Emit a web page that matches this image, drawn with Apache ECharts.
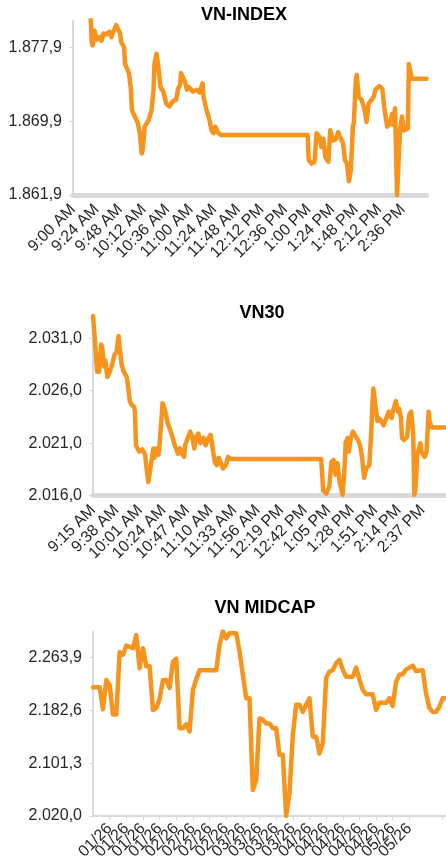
<!DOCTYPE html>
<html>
<head>
<meta charset="utf-8">
<script src="https://cdn.jsdelivr.net/npm/echarts@6/dist/echarts.min.js"></script>
<style>
  html, body { margin: 0; padding: 0; background: #fff; }
  #chart { width: 446px; height: 863px; }
</style>
</head>
<body>
<div id="chart"></div>
<script>
// VN-INDEX intraday (time, points)
const vniTimes = [
    '9:18','9:19','9:20','9:22','9:24','9:27','9:29','9:31','9:34','9:37',
    '9:39','9:44','9:48','9:49','9:52','9:53','9:55','9:57','9:59','10:00',
    '10:03','10:06','10:08','10:10','10:11','10:13','10:15','10:17','10:20','10:22',
    '10:23','10:25','10:27','10:29','10:32','10:35','10:38','10:42','10:45','10:47',
    '10:49','10:50','10:54','10:56','10:58','11:02','11:06','11:09','11:12','11:13',
    '11:16','11:18','11:19','11:21','11:23','11:25','11:28','11:31','12:59','13:00',
    '13:03','13:06','13:08','13:11','13:13','13:15','13:17','13:20','13:22','13:25',
    '13:28','13:30','13:32','13:35','13:37','13:39','13:41','13:43','13:45','13:46',
    '13:48','13:49','13:51','13:54','13:57','13:59','14:01','14:04','14:06','14:08',
    '14:12','14:15','14:17','14:20','14:23','14:25','14:26','14:28','14:29','14:30',
    '14:32','14:33','14:35','14:37','14:41','14:42','14:45','15:00'
];
const vniValues = [
    1881.2,1878.5,1878.1,1879.7,1878.7,1879.0,1878.6,1879.4,1879.3,1879.6,
    1879.0,1880.3,1879.4,1878.5,1877.9,1876.1,1876.0,1875.1,1873.3,1871.1,
    1870.4,1869.7,1868.6,1866.4,1866.8,1869.3,1869.5,1870.0,1871.1,1873.3,
    1876.1,1877.2,1875.8,1873.6,1873.1,1871.8,1871.5,1872.1,1872.2,1873.4,
    1873.8,1875.1,1874.2,1873.3,1873.6,1873.1,1873.3,1873.0,1874.0,1872.5,
    1871.1,1870.4,1870.0,1868.9,1868.6,1869.3,1868.6,1868.4,1868.4,1865.7,
    1865.3,1865.5,1868.6,1868.2,1867.1,1868.0,1866.0,1865.5,1868.9,1867.8,
    1868.0,1868.7,1868.2,1867.5,1865.7,1865.3,1863.4,1864.6,1869.3,1869.7,
    1874.3,1874.9,1872.5,1872.2,1871.1,1869.8,1871.8,1872.2,1872.5,1873.3,
    1873.7,1873.4,1871.4,1869.3,1869.7,1870.7,1869.5,1871.3,1871.1,1861.9,
    1866.4,1868.9,1870.4,1868.9,1869.1,1876.1,1874.5,1874.5
];
const vniXTicks = ['9:00 AM','9:24 AM','9:48 AM','10:12 AM','10:36 AM','11:00 AM','11:24 AM','11:48 AM',
    '12:12 PM','12:36 PM','1:00 PM','1:24 PM','1:48 PM','2:12 PM','2:36 PM'];
const vniYTicks = [1861.9, 1869.9, 1877.9];

// VN30 intraday
const vn30Times = [
    '9:15','9:17','9:19','9:21','9:23','9:24','9:26','9:27','9:29','9:31',
    '9:34','9:36','9:38','9:40','9:41','9:43','9:45','9:48','9:49','9:51',
    '9:53','9:55','9:56','9:57','10:00','10:03','10:06','10:07','10:09','10:10',
    '10:12','10:14','10:15','10:17','10:19','10:20','10:22','10:23','10:25','10:28',
    '10:30','10:32','10:33','10:35','10:38','10:40','10:42','10:44','10:45','10:47',
    '10:50','10:52','10:54','10:56','10:58','11:00','11:03','11:05','11:08','11:10',
    '11:12','11:14','11:16','11:18','11:20','11:22','11:25','11:27','11:29','12:58',
    '13:00','13:03','13:06','13:08','13:10','13:12','13:14','13:16','13:19','13:21',
    '13:22','13:24','13:25','13:27','13:29','13:32','13:34','13:36','13:38','13:40',
    '13:42','13:45','13:47','13:48','13:49','13:51','13:53','13:54','13:56','13:59',
    '14:01','14:04','14:05','14:07','14:08','14:11','14:13','14:14','14:16','14:17',
    '14:19','14:22','14:23','14:24','14:26','14:28','14:29','14:30','14:32','14:35',
    '14:36','14:39','14:41','14:43','14:44','14:46','15:00'
];
const vn30Values = [
    2033.1,2030.7,2027.8,2027.8,2030.4,2030.1,2028.3,2028.9,2027.3,2027.7,
    2028.6,2029.4,2029.7,2031.2,2030.1,2028.5,2027.8,2027.3,2026.6,2025.0,
    2024.6,2024.5,2024.0,2020.8,2020.2,2020.4,2019.9,2018.9,2017.3,2017.3,
    2019.2,2020.5,2019.6,2020.5,2019.9,2020.8,2023.4,2024.8,2024.3,2022.9,
    2022.4,2021.8,2021.9,2020.8,2020.0,2020.5,2020.0,2019.7,2020.8,2021.3,
    2022.1,2021.6,2020.5,2021.6,2021.9,2021.0,2021.5,2020.8,2021.5,2021.8,
    2020.5,2019.2,2018.9,2019.6,2019.1,2018.6,2018.9,2019.7,2019.5,2019.5,
    2016.5,2016.2,2016.9,2019.2,2019.4,2018.0,2019.1,2017.3,2016.1,2018.9,
    2021.1,2021.5,2020.2,2021.5,2022.1,2021.6,2021.3,2020.8,2019.6,2017.7,
    2018.6,2018.9,2022.1,2024.6,2026.2,2024.6,2023.1,2023.4,2023.2,2022.7,
    2023.2,2024.0,2023.9,2023.4,2024.0,2025.0,2024.0,2024.3,2023.4,2021.5,
    2021.3,2021.6,2021.5,2023.7,2024.0,2021.8,2016.1,2016.4,2019.9,2021.0,
    2020.2,2019.7,2020.2,2024.0,2023.1,2022.5,2022.5
];
const vn30XTicks = ['9:15 AM','9:38 AM','10:01 AM','10:24 AM','10:47 AM','11:10 AM','11:33 AM','11:56 AM',
    '12:19 PM','12:42 PM','1:05 PM','1:28 PM','1:51 PM','2:14 PM','2:37 PM'];
const vn30YTicks = [2016.0, 2021.0, 2026.0, 2031.0];

// VN MIDCAP daily (trading day index from start)
const midDays = [
    0,2,3,4,5,6,7,8,9,10,
    12,13,14,15,16,17,18,19,20,21,
    22,23,24,25,26,27,28,29,30,31,
    32,37,38,39,40,41,43,44,46,47,
    48,49,50,51,52,53,54,55,56,57,
    58,59,60,61,62,63,64,65,66,67,
    68,69,70,71,72,73,74,75,76,78,
    79,80,81,82,84,85,86,88,89,90,
    91,92,93,94,96,97,99,100,101,102,
    103,104,105,106
];
const midValues = [
    2218,2218,2184,2229,2221,2176,2176,2272,2268,2282,
    2278,2298,2247,2278,2250,2250,2183,2186,2200,2229,
    2229,2217,2257,2262,2155,2155,2161,2150,2214,2230,
    2244,2244,2283,2304,2293,2301,2301,2273,2201,2201,
    2060,2075,2170,2168,2162,2162,2155,2155,2114,2114,
    2020,2055,2144,2191,2191,2180,2191,2201,2142,2142,
    2116,2132,2232,2242,2244,2255,2260,2245,2234,2234,
    2248,2230,2214,2207,2207,2183,2194,2194,2201,2189,
    2226,2237,2238,2245,2251,2243,2244,2209,2186,2180,
    2180,2188,2201,2201
];
const midXTicks = ['01/26','01/26','01/26','01/26','01/26','02/26','02/26','02/26','02/26',
    '03/26','03/26','03/26','03/26','04/26','04/26','04/26','04/26','04/26','05/26','05/26','05/26'];
const midYTicks = [2020.0, 2101.3, 2182.6, 2263.9];

const LINE_COLOR = '#F7941D';
const AXIS_GRAY = '#d9d9d9';
const TEXT = '#262626';
const FONT = 'Liberation Sans, Arial, sans-serif';

function clockToMin(s) {
    let parts = s.split(':');
    return (+parts[0]) * 60 + (+parts[1]);
}

function tickToMin(label) {
    let parts = label.split(' ');
    let hm = parts[0].split(':');
    let h = +hm[0];
    if (parts[1] == 'PM' && h != 12) h += 12;
    return h * 60 + (+hm[1]);
}

// 1877.9 -> 1.877,9
function fmtVN(v) {
    let s = v.toFixed(1).split('.');
    return s[0].replace(/\B(?=(\d{3})+(?!\d))/g, '.') + ',' + s[1];
}

function yAxisFor(idx, min, max, ticks) {
    return {
        type: 'value', gridIndex: idx, min: min, max: max,
        splitLine: { show: false },
        axisLine: { show: true, lineStyle: { color: AXIS_GRAY, width: 2 } },
        axisTick: { show: true, length: 4, customValues: ticks, lineStyle: { color: AXIS_GRAY } },
        axisLabel: {
            customValues: ticks, formatter: fmtVN, margin: 11,
            fontSize: 16, color: TEXT, fontFamily: FONT
        }
    };
}

function intradayX(idx, startLabel, span, ticks) {
    let start = tickToMin(startLabel);
    let labelVals = ticks.map(t => tickToMin(t) - start);
    return {
        type: 'value', gridIndex: idx, min: 0, max: span,
        splitLine: { show: false },
        axisLine: { show: true, onZero: false, lineStyle: { color: AXIS_GRAY, width: 5 } },
        axisTick: { show: false },
        axisLabel: {
            customValues: labelVals,
            formatter: v => ticks[labelVals.indexOf(v)] || '',
            rotate: 45, margin: 12, fontSize: 16, color: TEXT, fontFamily: FONT
        }
    };
}

function titleAt(text, x, y) {
    return {
        text: text, left: x, top: y, textAlign: 'center', padding: 0,
        textStyle: { fontSize: 18, fontWeight: 'bold', color: '#000', fontFamily: FONT }
    };
}

function lineSeries(idx, data) {
    return {
        type: 'line', xAxisIndex: idx, yAxisIndex: idx, data: data,
        showSymbol: false, clip: true, animation: false,
        lineStyle: { color: LINE_COLOR, width: 4.5, join: 'round', cap: 'round' }
    };
}

let vniStart = tickToMin(vniXTicks[0]);
let vn30Start = tickToMin(vn30XTicks[0]);
let vniData = vniTimes.map((t, i) => [clockToMin(t) - vniStart, vniValues[i]]);
let vn30Data = vn30Times.map((t, i) => [clockToMin(t) - vn30Start, vn30Values[i]]);
let midData = midDays.map((d, i) => [d, midValues[i]]);

let midLabelVals = midXTicks.map((t, i) => i * 5);
let midTickVals = [];
for (let i = 0; i <= 105; i += 5) midTickVals.push(i);

let myChart = echarts.init(document.getElementById('chart'), null, { renderer: 'canvas' });

option = {
    animation: false,
    title: [
        titleAt('VN-INDEX', 244, 6),
        titleAt('VN30', 262, 304),
        titleAt('VN MIDCAP', 265, 599)
    ],
    grid: [
        { left: 73, top: 20.5, width: 353.5, height: 174.5 },
        { left: 93, top: 315, width: 353, height: 180.7 },
        { left: 93, top: 631.7, width: 353, height: 184.3 }
    ],
    xAxis: [
        intradayX(0, vniXTicks[0], 360, vniXTicks),
        intradayX(1, vn30XTicks[0], 345, vn30XTicks),
        {
            type: 'value', gridIndex: 2, min: 0, max: 106,
            splitLine: { show: false },
            axisLine: { show: true, onZero: false, lineStyle: { color: AXIS_GRAY, width: 2 } },
            axisTick: { show: true, length: 4, customValues: midTickVals, lineStyle: { color: AXIS_GRAY } },
            axisLabel: {
                customValues: midLabelVals,
                formatter: v => midXTicks[v / 5] || '',
                rotate: 45, margin: 10, fontSize: 16, color: TEXT, fontFamily: FONT
            }
        }
    ],
    yAxis: [
        yAxisFor(0, 1861.9, 1880.8, vniYTicks),
        yAxisFor(1, 2016.0, 2033.2, vn30YTicks),
        yAxisFor(2, 2020.0, 2303.3, midYTicks)
    ],
    series: [
        lineSeries(0, vniData),
        lineSeries(1, vn30Data),
        lineSeries(2, midData)
    ]
};

myChart.setOption(option);
window.addEventListener('resize', myChart.resize);
</script>
</body>
</html>
